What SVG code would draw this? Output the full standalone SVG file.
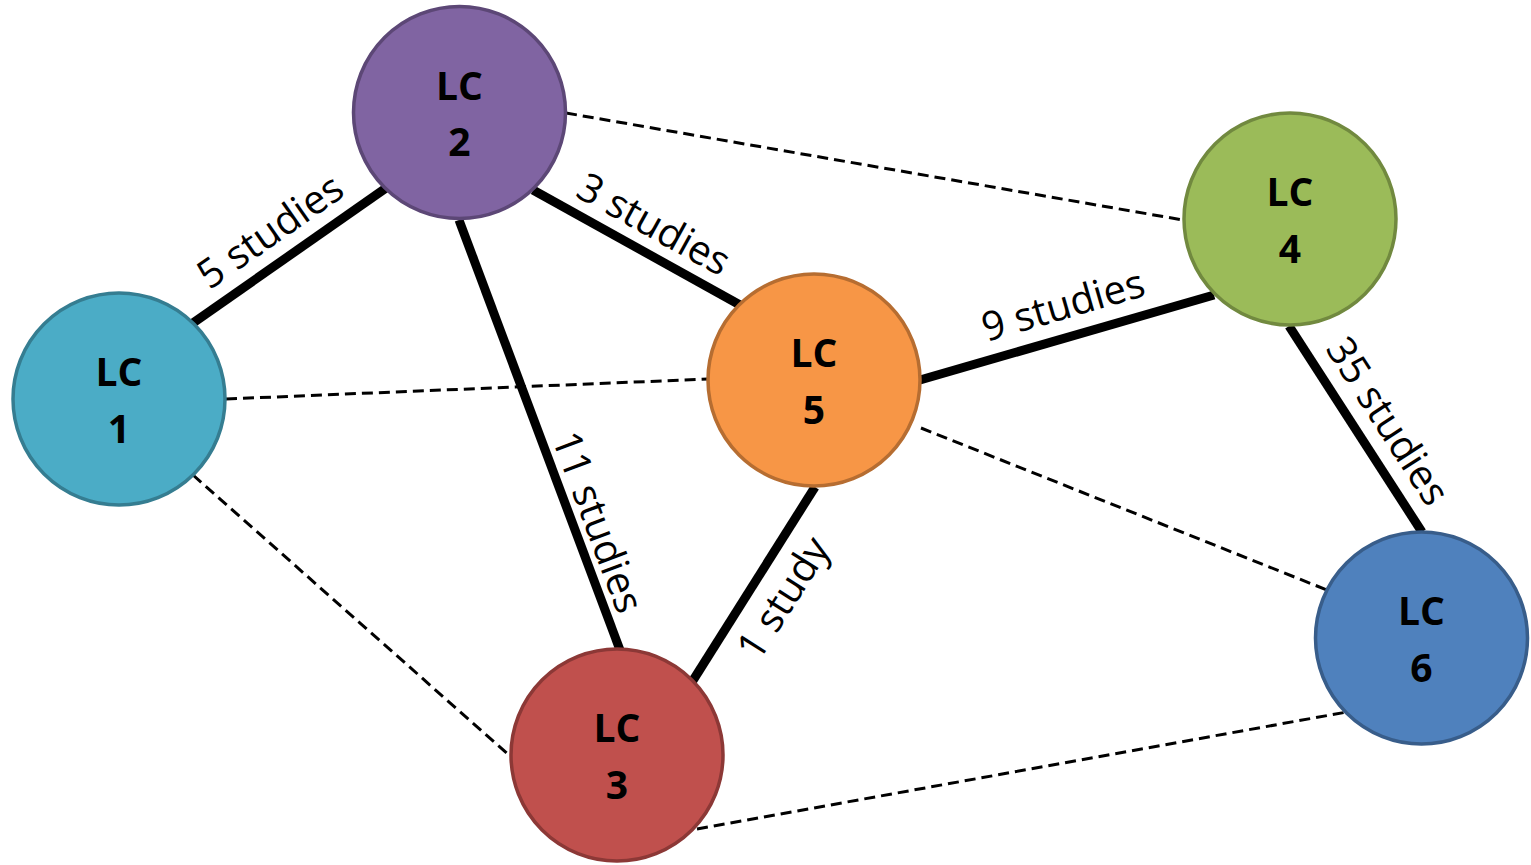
<svg xmlns="http://www.w3.org/2000/svg" width="1531" height="865" viewBox="0 0 1531 865">
<style>
.thick{stroke:#000;stroke-width:9;fill:none}
.dash{stroke:#000;stroke-width:3;stroke-dasharray:11 6;fill:none}
.node{stroke-width:3.5}
.nl{font-family:"Open Sans","Liberation Sans",sans-serif;font-weight:bold;font-size:39px;text-anchor:middle;fill:#000}
.el{font-family:"Open Sans","Liberation Sans",sans-serif;font-size:40px;text-anchor:middle;fill:#000}
</style>
<rect width="1531" height="865" fill="#fff"/>
<g id="connectors">
<line class="dash" x1="566" y1="113" x2="1183" y2="220"/>
<line class="dash" x1="226" y1="399" x2="708" y2="379"/>
<line class="dash" x1="193" y1="475" x2="510" y2="756"/>
<line class="dash" x1="921" y1="428" x2="1327" y2="590"/>
<line class="dash" x1="697" y1="829" x2="1347" y2="712"/>
<line class="thick" x1="193" y1="323" x2="386" y2="188"/>
<line class="thick" x1="533" y1="190" x2="740" y2="305"/>
<line class="thick" x1="459" y1="220" x2="620" y2="650"/>
<line class="thick" x1="815" y1="487" x2="692" y2="682"/>
<line class="thick" x1="920" y1="380" x2="1214" y2="295"/>
<line class="thick" x1="1289" y1="326" x2="1422" y2="532"/>
<g transform="translate(270,231) rotate(-35)"><text class="el" x="0" y="14">5 studies</text></g>
<g transform="translate(654,224) rotate(29)"><text class="el" x="0" y="14">3 studies</text></g>
<g transform="translate(598,522) rotate(69.5)"><text class="el" x="0" y="14">11 studies</text></g>
<g transform="translate(783,598) rotate(-57.6)"><text class="el" x="0" y="14">1 study</text></g>
<g transform="translate(1063,305) rotate(-16.1)"><text class="el" x="0" y="14">9 studies</text></g>
<g transform="translate(1388,421) rotate(57.1)"><text class="el" x="0" y="14">35 studies</text></g>
</g>
<g id="lc1"><circle class="node" cx="119" cy="399" r="106" fill="#4BACC6" stroke="#357D91"/><text class="nl" x="119" y="386">LC</text><text class="nl" x="119" y="443">1</text></g>
<g id="lc2"><circle class="node" cx="459.5" cy="112.5" r="106" fill="#8064A2" stroke="#5C4776"/><text class="nl" x="459.5" y="100">LC</text><text class="nl" x="459.5" y="156">2</text></g>
<g id="lc3"><circle class="node" cx="617" cy="755" r="106" fill="#C0504D" stroke="#8C3836"/><text class="nl" x="617" y="742">LC</text><text class="nl" x="617" y="799">3</text></g>
<g id="lc4"><circle class="node" cx="1290" cy="219" r="106" fill="#9BBB59" stroke="#71893F"/><text class="nl" x="1290" y="206">LC</text><text class="nl" x="1290" y="263">4</text></g>
<g id="lc5"><circle class="node" cx="814" cy="380" r="106" fill="#F79646" stroke="#B66D31"/><text class="nl" x="814" y="367">LC</text><text class="nl" x="814" y="424">5</text></g>
<g id="lc6"><circle class="node" cx="1421.5" cy="638" r="106" fill="#4F81BD" stroke="#385D8A"/><text class="nl" x="1421.5" y="625">LC</text><text class="nl" x="1421.5" y="682">6</text></g>
</svg>
